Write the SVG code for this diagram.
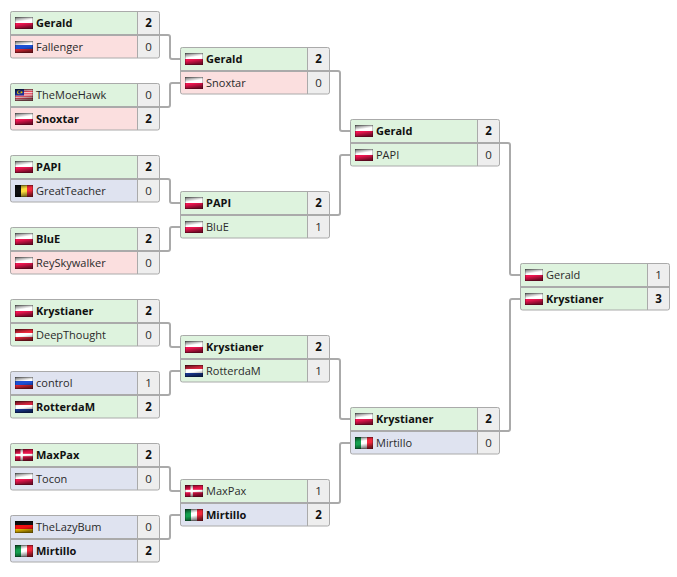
<svg xmlns="http://www.w3.org/2000/svg" xmlns:xlink="http://www.w3.org/1999/xlink" width="677" height="577" viewBox="0 0 677 577">
<defs>
<style>
text{font-family:"Open Sans","Noto Sans","DejaVu Sans",sans-serif;font-size:11px;fill:#2a2a2a}
.b{font-weight:700;fill:#111}
.s{text-anchor:middle;font-size:11.5px}
.g{fill:#def3de}.r{fill:#fbdfdf}.u{fill:#dfe3f0}.k{fill:#eeeeee}
.o{fill:none;stroke:#aaa;stroke-width:1}
.d{fill:none;stroke:#aaa;stroke-width:2}
.v{fill:none;stroke:#aaa;stroke-width:1}
.c{fill:none;stroke:#aaa;stroke-width:2;stroke-linejoin:round}
.e{fill:url(#gl);stroke:#000;stroke-opacity:.55;stroke-width:.8}
</style>
<linearGradient id="gl" x1="0" y1="0" x2=".25" y2="1">
<stop offset="0" stop-color="#000" stop-opacity=".62"/>
<stop offset=".42" stop-color="#000" stop-opacity="0"/>
<stop offset=".62" stop-color="#000" stop-opacity="0"/>
<stop offset="1" stop-color="#000" stop-opacity=".5"/>
</linearGradient>
<symbol id="pl" viewBox="0 0 18 12"><rect width="18" height="6" fill="#fff"/><rect y="6" width="18" height="6" fill="#ee1650"/><rect class="e" width="18" height="12"/></symbol>
<symbol id="ru" viewBox="0 0 18 12"><rect width="18" height="4" fill="#fff"/><rect y="4" width="18" height="4" fill="#1c4fd4"/><rect y="8" width="18" height="4" fill="#ee2a3a"/><rect class="e" width="18" height="12"/></symbol>
<symbol id="my" viewBox="0 0 18 12"><rect width="18" height="12" fill="#fff"/><path d="M0 .9H18M0 2.600H18M0 4.300H18M0 6H18M0 7.700H18M0 9.400H18M0 11.100H18" stroke="#e0243a" stroke-width=".9"/><rect width="9" height="6.500" fill="#1c2f9a"/><circle cx="4" cy="3.200" r="2" fill="#fd0"/><circle cx="4.700" cy="3.200" r="1.600" fill="#1c2f9a"/><circle cx="6.500" cy="3.200" r="1" fill="#fd0"/><rect class="e" width="18" height="12"/></symbol>
<symbol id="be" viewBox="0 0 18 12"><rect width="6" height="12" fill="#111"/><rect x="6" width="6" height="12" fill="#fbdc3c"/><rect x="12" width="6" height="12" fill="#f0283c"/><rect class="e" width="18" height="12"/></symbol>
<symbol id="at" viewBox="0 0 18 12"><rect width="18" height="12" fill="#f0283c"/><rect y="4" width="18" height="4" fill="#fff"/><rect class="e" width="18" height="12"/></symbol>
<symbol id="nl" viewBox="0 0 18 12"><rect width="18" height="4" fill="#d82840"/><rect y="4" width="18" height="4" fill="#fff"/><rect y="8" width="18" height="4" fill="#1c3fa4"/><rect class="e" width="18" height="12"/></symbol>
<symbol id="dk" viewBox="0 0 18 12"><rect width="18" height="12" fill="#e8144a"/><rect x="5.500" width="2.400" height="12" fill="#fff"/><rect y="4.800" width="18" height="2.400" fill="#fff"/><rect class="e" width="18" height="12"/></symbol>
<symbol id="de" viewBox="0 0 18 12"><rect width="18" height="4" fill="#111"/><rect y="4" width="18" height="4" fill="#f01010"/><rect y="8" width="18" height="4" fill="#fc0"/><rect class="e" width="18" height="12"/></symbol>
<symbol id="it" viewBox="0 0 18 12"><rect width="6" height="12" fill="#14a050"/><rect x="6" width="6" height="12" fill="#fff"/><rect x="12" width="6" height="12" fill="#f0283c"/><rect class="e" width="18" height="12"/></symbol>
<path id="box" d="M2 0.500H147a2 2 0 0 1 2 2V45a2 2 0 0 1-2 2H2a2 2 0 0 1-2-2V2.500a2 2 0 0 1 2-2z" class="o"/>
</defs>
<rect width="677" height="577" fill="#fff"/>
<g id="connectors">
<path class="c" d="M159 35H168a2 2 0 0 1 2 2V57a2 2 0 0 0 2 2H181"/>
<path class="c" d="M159 107H168a2 2 0 0 0 2-2V85a2 2 0 0 1 2-2H181"/>
<path class="c" d="M159 179H168a2 2 0 0 1 2 2V201a2 2 0 0 0 2 2H181"/>
<path class="c" d="M159 251H168a2 2 0 0 0 2-2V229a2 2 0 0 1 2-2H181"/>
<path class="c" d="M159 323H168a2 2 0 0 1 2 2V345a2 2 0 0 0 2 2H181"/>
<path class="c" d="M159 395H168a2 2 0 0 0 2-2V373a2 2 0 0 1 2-2H181"/>
<path class="c" d="M159 467H168a2 2 0 0 1 2 2V489a2 2 0 0 0 2 2H181"/>
<path class="c" d="M159 539H168a2 2 0 0 0 2-2V517a2 2 0 0 1 2-2H181"/>
<path class="c" d="M329 71H338a2 2 0 0 1 2 2V129a2 2 0 0 0 2 2H351"/>
<path class="c" d="M329 215H338a2 2 0 0 0 2-2V157a2 2 0 0 1 2-2H351"/>
<path class="c" d="M329 359H338a2 2 0 0 1 2 2V417a2 2 0 0 0 2 2H351"/>
<path class="c" d="M329 503H338a2 2 0 0 0 2-2V445a2 2 0 0 1 2-2H351"/>
<path class="c" d="M499 143H508a2 2 0 0 1 2 2V273a2 2 0 0 0 2 2H521"/>
<path class="c" d="M499 431H508a2 2 0 0 0 2-2V301a2 2 0 0 1 2-2H521"/>
</g>
<g id="m1" transform="translate(10.500 11)"><rect class="g" width="127" height="24"/><rect class="r" y="24" width="127" height="23"/><rect class="k" x="127" width="22" height="47"/><use href="#box"/><path class="d" d="M0 24H149"/><path class="v" d="M127 0V47"/><use href="#pl" x="4.500" y="6" width="18" height="12"/><text class="b" x="25.500" y="16">Gerald</text><text class="s b" x="138" y="16">2</text><use href="#ru" x="4.500" y="30" width="18" height="12"/><text x="25.500" y="40">Fallenger</text><text class="s" x="138" y="40">0</text></g>
<g id="m2" transform="translate(10.500 83)"><rect class="g" width="127" height="24"/><rect class="r" y="24" width="127" height="23"/><rect class="k" x="127" width="22" height="47"/><use href="#box"/><path class="d" d="M0 24H149"/><path class="v" d="M127 0V47"/><use href="#my" x="4.500" y="6" width="18" height="12"/><text x="25.500" y="16">TheMoeHawk</text><text class="s" x="138" y="16">0</text><use href="#pl" x="4.500" y="30" width="18" height="12"/><text class="b" x="25.500" y="40">Snoxtar</text><text class="s b" x="138" y="40">2</text></g>
<g id="m3" transform="translate(10.500 155)"><rect class="g" width="127" height="24"/><rect class="u" y="24" width="127" height="23"/><rect class="k" x="127" width="22" height="47"/><use href="#box"/><path class="d" d="M0 24H149"/><path class="v" d="M127 0V47"/><use href="#pl" x="4.500" y="6" width="18" height="12"/><text class="b" x="25.500" y="16">PAPI</text><text class="s b" x="138" y="16">2</text><use href="#be" x="4.500" y="30" width="18" height="12"/><text x="25.500" y="40">GreatTeacher</text><text class="s" x="138" y="40">0</text></g>
<g id="m4" transform="translate(10.500 227)"><rect class="g" width="127" height="24"/><rect class="r" y="24" width="127" height="23"/><rect class="k" x="127" width="22" height="47"/><use href="#box"/><path class="d" d="M0 24H149"/><path class="v" d="M127 0V47"/><use href="#pl" x="4.500" y="6" width="18" height="12"/><text class="b" x="25.500" y="16">BluE</text><text class="s b" x="138" y="16">2</text><use href="#pl" x="4.500" y="30" width="18" height="12"/><text x="25.500" y="40">ReySkywalker</text><text class="s" x="138" y="40">0</text></g>
<g id="m5" transform="translate(10.500 299)"><rect class="g" width="127" height="24"/><rect class="g" y="24" width="127" height="23"/><rect class="k" x="127" width="22" height="47"/><use href="#box"/><path class="d" d="M0 24H149"/><path class="v" d="M127 0V47"/><use href="#pl" x="4.500" y="6" width="18" height="12"/><text class="b" x="25.500" y="16">Krystianer</text><text class="s b" x="138" y="16">2</text><use href="#at" x="4.500" y="30" width="18" height="12"/><text x="25.500" y="40">DeepThought</text><text class="s" x="138" y="40">0</text></g>
<g id="m6" transform="translate(10.500 371)"><rect class="u" width="127" height="24"/><rect class="g" y="24" width="127" height="23"/><rect class="k" x="127" width="22" height="47"/><use href="#box"/><path class="d" d="M0 24H149"/><path class="v" d="M127 0V47"/><use href="#ru" x="4.500" y="6" width="18" height="12"/><text x="25.500" y="16">control</text><text class="s" x="138" y="16">1</text><use href="#nl" x="4.500" y="30" width="18" height="12"/><text class="b" x="25.500" y="40">RotterdaM</text><text class="s b" x="138" y="40">2</text></g>
<g id="m7" transform="translate(10.500 443)"><rect class="g" width="127" height="24"/><rect class="u" y="24" width="127" height="23"/><rect class="k" x="127" width="22" height="47"/><use href="#box"/><path class="d" d="M0 24H149"/><path class="v" d="M127 0V47"/><use href="#dk" x="4.500" y="6" width="18" height="12"/><text class="b" x="25.500" y="16">MaxPax</text><text class="s b" x="138" y="16">2</text><use href="#pl" x="4.500" y="30" width="18" height="12"/><text x="25.500" y="40">Tocon</text><text class="s" x="138" y="40">0</text></g>
<g id="m8" transform="translate(10.500 515)"><rect class="u" width="127" height="24"/><rect class="u" y="24" width="127" height="23"/><rect class="k" x="127" width="22" height="47"/><use href="#box"/><path class="d" d="M0 24H149"/><path class="v" d="M127 0V47"/><use href="#de" x="4.500" y="6" width="18" height="12"/><text x="25.500" y="16">TheLazyBum</text><text class="s" x="138" y="16">0</text><use href="#it" x="4.500" y="30" width="18" height="12"/><text class="b" x="25.500" y="40">Mirtillo</text><text class="s b" x="138" y="40">2</text></g>
<g id="m9" transform="translate(180.500 47)"><rect class="g" width="127" height="24"/><rect class="r" y="24" width="127" height="23"/><rect class="k" x="127" width="22" height="47"/><use href="#box"/><path class="d" d="M0 24H149"/><path class="v" d="M127 0V47"/><use href="#pl" x="4.500" y="6" width="18" height="12"/><text class="b" x="25.500" y="16">Gerald</text><text class="s b" x="138" y="16">2</text><use href="#pl" x="4.500" y="30" width="18" height="12"/><text x="25.500" y="40">Snoxtar</text><text class="s" x="138" y="40">0</text></g>
<g id="m10" transform="translate(180.500 191)"><rect class="g" width="127" height="24"/><rect class="g" y="24" width="127" height="23"/><rect class="k" x="127" width="22" height="47"/><use href="#box"/><path class="d" d="M0 24H149"/><path class="v" d="M127 0V47"/><use href="#pl" x="4.500" y="6" width="18" height="12"/><text class="b" x="25.500" y="16">PAPI</text><text class="s b" x="138" y="16">2</text><use href="#pl" x="4.500" y="30" width="18" height="12"/><text x="25.500" y="40">BluE</text><text class="s" x="138" y="40">1</text></g>
<g id="m11" transform="translate(180.500 335)"><rect class="g" width="127" height="24"/><rect class="g" y="24" width="127" height="23"/><rect class="k" x="127" width="22" height="47"/><use href="#box"/><path class="d" d="M0 24H149"/><path class="v" d="M127 0V47"/><use href="#pl" x="4.500" y="6" width="18" height="12"/><text class="b" x="25.500" y="16">Krystianer</text><text class="s b" x="138" y="16">2</text><use href="#nl" x="4.500" y="30" width="18" height="12"/><text x="25.500" y="40">RotterdaM</text><text class="s" x="138" y="40">1</text></g>
<g id="m12" transform="translate(180.500 479)"><rect class="g" width="127" height="24"/><rect class="u" y="24" width="127" height="23"/><rect class="k" x="127" width="22" height="47"/><use href="#box"/><path class="d" d="M0 24H149"/><path class="v" d="M127 0V47"/><use href="#dk" x="4.500" y="6" width="18" height="12"/><text x="25.500" y="16">MaxPax</text><text class="s" x="138" y="16">1</text><use href="#it" x="4.500" y="30" width="18" height="12"/><text class="b" x="25.500" y="40">Mirtillo</text><text class="s b" x="138" y="40">2</text></g>
<g id="m13" transform="translate(350.500 119)"><rect class="g" width="127" height="24"/><rect class="g" y="24" width="127" height="23"/><rect class="k" x="127" width="22" height="47"/><use href="#box"/><path class="d" d="M0 24H149"/><path class="v" d="M127 0V47"/><use href="#pl" x="4.500" y="6" width="18" height="12"/><text class="b" x="25.500" y="16">Gerald</text><text class="s b" x="138" y="16">2</text><use href="#pl" x="4.500" y="30" width="18" height="12"/><text x="25.500" y="40">PAPI</text><text class="s" x="138" y="40">0</text></g>
<g id="m14" transform="translate(350.500 407)"><rect class="g" width="127" height="24"/><rect class="u" y="24" width="127" height="23"/><rect class="k" x="127" width="22" height="47"/><use href="#box"/><path class="d" d="M0 24H149"/><path class="v" d="M127 0V47"/><use href="#pl" x="4.500" y="6" width="18" height="12"/><text class="b" x="25.500" y="16">Krystianer</text><text class="s b" x="138" y="16">2</text><use href="#it" x="4.500" y="30" width="18" height="12"/><text x="25.500" y="40">Mirtillo</text><text class="s" x="138" y="40">0</text></g>
<g id="m15" transform="translate(520.500 263)"><rect class="g" width="127" height="24"/><rect class="g" y="24" width="127" height="23"/><rect class="k" x="127" width="22" height="47"/><use href="#box"/><path class="d" d="M0 24H149"/><path class="v" d="M127 0V47"/><use href="#pl" x="4.500" y="6" width="18" height="12"/><text x="25.500" y="16">Gerald</text><text class="s" x="138" y="16">1</text><use href="#pl" x="4.500" y="30" width="18" height="12"/><text class="b" x="25.500" y="40">Krystianer</text><text class="s b" x="138" y="40">3</text></g>
</svg>
